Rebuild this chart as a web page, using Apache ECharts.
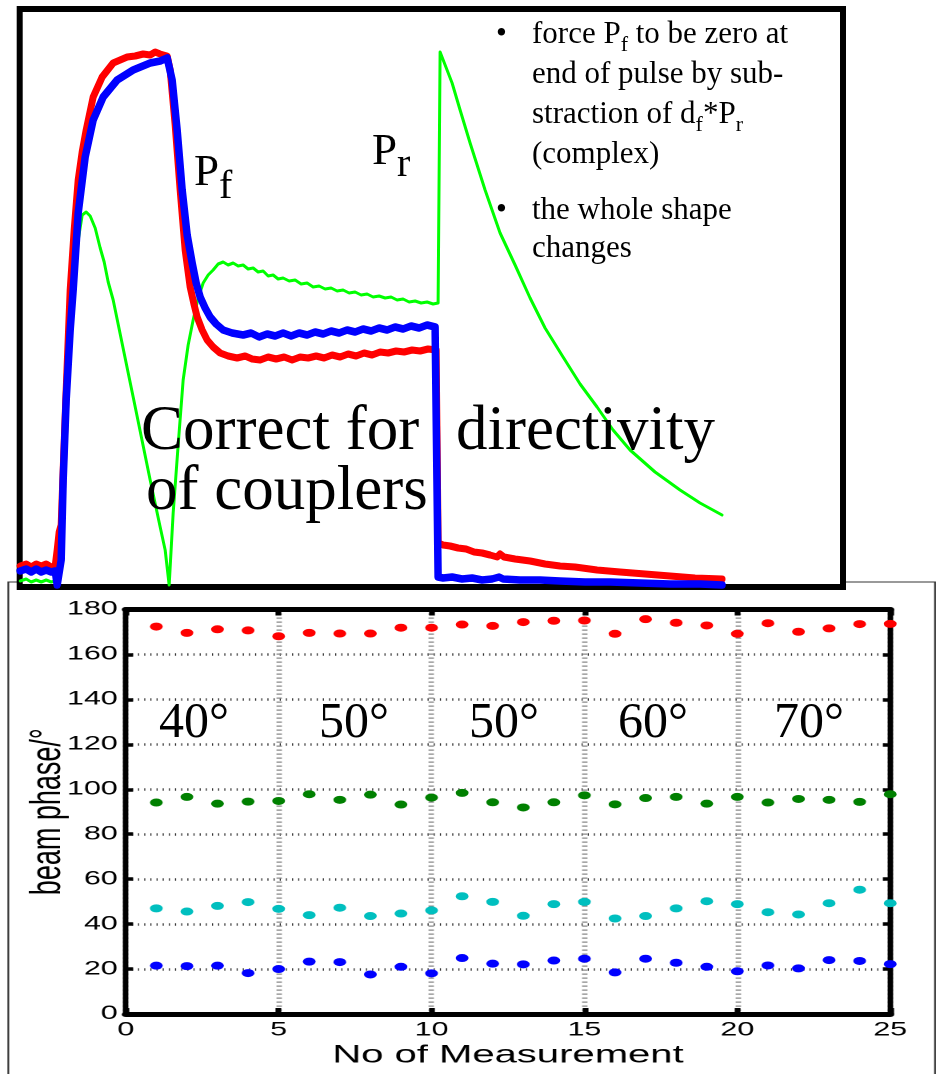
<!DOCTYPE html>
<html>
<head>
<meta charset="utf-8">
<script src="https://cdn.jsdelivr.net/npm/echarts@6/dist/echarts.min.js"></script>
<style>
  html, body { margin: 0; padding: 0; background: #fff; }
  /* the phase plot is laid out narrow and widened on screen */
  #phase { position: absolute; left: 0; top: 575px; width: 587px; height: 499px;
           transform: scaleX(1.6); transform-origin: 0 0; }
  #pulse { position: absolute; left: 0; top: 0; width: 939px; height: 1074px; }
</style>
</head>
<body>
<div id="phase"></div>
<div id="pulse"></div>
<script>
// ---------- RF pulse traces: [time (us), amplitude (a.u.)] ----------
const pfRaw = [
  [40,10.5],[52,11.5],[62,10],[72,11.5],[82,10.5],[92,11.5],[102,10],[110,10.5],[114,18.5],[118,27.5],
  [122,31],[126,58.5],[132,98.5],[140,148.5],[148,178.5],[156,203.5],[164,217.5],[172,228.5],[186,245],
  [204,255],[226,262],[240,263.5],[254,265],[270,265.5],[286,266.5],[300,266],[310,267.5],[320,266.5],
  [334,265.5],[340,258.5],[350,231],[360,198.5],[370,168.5],[380,150],[388,141],[394,135],[404,128.5],
  [414,123.5],[426,120],[440,117],[456,115.5],[474,114.5],[490,115.5],[504,114],[520,113.5],[536,115],
  [552,114],[568,115],[584,113.5],[600,115],[616,114.5],[632,115.5],[648,114.5],[664,116],[680,115],
  [696,116.5],[712,115.5],[728,117],[744,116],[760,117.5],[776,117],[792,118],[808,117.5],[824,118.5],
  [840,118],[856,119],[872,118.5],[876,22],[886,21],[900,20.5],[916,19.5],[932,19],[948,17.5],[964,17],
  [980,16],[994,15],[1000,16.5],[1008,15],[1030,14],[1060,13],[1090,11.5],[1120,10.5],[1150,10],
  [1194,8.5],[1240,7.5],[1290,6.5],[1340,5.5],[1390,4.5],[1444,4]
];
const pfCorrected = [
  [40,8],[52,9],[62,7.5],[72,9],[82,7.5],[92,8.5],[102,7.5],[110,8],[114,1],[118,0.5],[122,13.5],
  [126,53.5],[132,93.5],[140,128.5],[146,148.5],[156,187],[170,215],[186,233.5],[206,245],[234,253.5],
  [266,258.5],[300,262],[320,263],[334,264.5],[344,253.5],[354,228.5],[364,198.5],[374,176],[384,162],
  [392,152],[400,145],[410,139.5],[420,135],[432,131.5],[446,128.5],[464,127],[486,126],[502,127],
  [518,125],[534,126.5],[550,125.5],[566,127],[582,125.5],[598,127],[614,126],[630,127.5],[646,126.5],
  [662,128],[678,127],[694,128.5],[710,127.5],[726,129],[742,128],[758,129.5],[774,128.5],[790,130],
  [806,129],[822,130.5],[838,129.5],[854,131],[870,130],[876,5],[886,4.5],[904,5],[924,4],[944,4.5],
  [964,3.5],[984,4],[998,5],[1006,4],[1040,3.5],[1080,3.5],[1120,3],[1170,2.5],[1220,2.5],[1280,2],
  [1340,1.5],[1400,1.5],[1444,1]
];
const prTrace = [
  [40,3],[52,4],[62,2.5],[72,3.5],[82,2.5],[92,3.5],[102,2.5],[110,3],[114,13.5],[120,32.5],[124,34.5],
  [132,78.5],[140,123.5],[148,153.5],[156,173.5],[164,186],[172,187.5],[180,185.5],[190,179.5],
  [200,169.5],[208,162.5],[216,152.5],[226,143.5],[266,95],[300,53.5],[320,30],[330,18.5],[338,1],
  [346,37],[356,71],[366,103.5],[376,121],[386,133.5],[396,144.5],[406,152],[416,156],[426,158.5],
  [436,161.5],[446,162.5],[456,161],[466,162],[476,160.5],[486,161],[496,159],[506,159.5],[516,157.5],
  [526,158],[536,155.5],[546,156],[556,154],[566,154.5],[578,153],[590,153.5],[602,151.5],[614,152],
  [626,150],[638,150.5],[650,149],[662,149.5],[674,148],[686,148.5],[698,147],[710,147.5],[722,146],
  [734,146.5],[746,145],[758,145.5],[770,144.5],[782,145],[794,143.5],[806,144],[818,142.5],[830,143],
  [842,142],[854,142.5],[866,141.5],[876,142],[880,267.5],[884,268.5],[904,252],[920,238.5],[940,222],
  [970,198.5],[1000,177],[1030,161],[1060,144.5],[1090,129.5],[1126,115],[1160,101.5],[1194,90],
  [1226,78.5],[1260,68.5],[1310,57.5],[1360,48.5],[1400,42],[1444,36]
];

// ---------- beam phase per measurement ----------
const measurement = [1,2,3,4,5,6,7,8,9,10,11,12,13,14,15,16,17,18,19,20,21,22,23,24,25];
const phaseRed   = [172.4,169.6,171.2,170.7,168.1,169.6,169.3,169.3,171.9,171.9,173.3,172.7,174.4,175.0,175.1,169.2,175.7,174.1,172.9,169.2,173.9,170.1,171.6,173.5,173.6];
const phaseGreen = [94.1,96.6,93.6,94.5,94.8,97.8,95.3,97.6,93.2,96.3,98.4,94.2,91.9,94.2,97.3,93.3,96.1,96.6,93.6,96.6,94.1,95.7,95.3,94.4,97.8];
const phaseCyan  = [47.0,45.6,48.1,49.8,46.8,44.0,47.3,43.6,44.7,46.1,52.4,49.9,43.7,48.9,49.9,42.5,43.6,47.0,50.2,48.9,45.3,44.3,49.3,55.3,49.3];
const phaseBlue  = [21.5,21.3,21.5,18.2,20.0,23.3,23.1,17.6,21.0,18.1,24.9,22.4,22.1,23.8,24.6,18.5,24.6,22.8,21.0,19.0,21.6,20.3,24.0,23.6,22.2];
const phaseTicks = { xMin: 0, xMax: 25, xStep: 5, yMin: 0, yMax: 180, yStep: 20 };
const settingLabels = ['40°', '50°', '50°', '60°', '70°'];

const SERIF = '"Liberation Serif", "Times New Roman", serif';
const SANS = '"Liberation Sans", Arial, sans-serif';

// ---------- text helpers (runs of normal text and subscripts) ----------
const measureCtx = document.createElement('canvas').getContext('2d');
const MID = 0.32; // distance from em-box middle to alphabetic baseline, in em
function textRun(x, baseline, parts, z) {
  const out = [];
  let cx = x;
  for (const [str, size, drop] of parts) {
    measureCtx.font = size + 'px "Liberation Serif"';
    out.push({
      type: 'text', x: cx, y: baseline + drop - MID * size, z: z || 20, silent: true,
      style: { text: str, fontSize: size, fontFamily: SERIF, fill: '#000', align: 'left', verticalAlign: 'middle' }
    });
    cx += measureCtx.measureText(str).width;
  }
  return out;
}

// ---------- pulse panel ----------
const pulseChart = echarts.init(document.getElementById('pulse'), null, { renderer: 'canvas' });

function trace(name, data, color, width, z) {
  return {
    type: 'line', name, data, z, silent: true, showSymbol: false, symbol: 'none',
    lineStyle: { color, width, join: 'round', cap: 'round' }
  };
}

const NOTE = 31, SUB = 22, DROP = 7;
const graphics = [].concat(
  // trace labels
  textRun(194, 188, [['P', 45, 0], ['f', 40, 12]]),
  textRun(372, 167, [['P', 45, 0], ['r', 40, 11]]),
  // bullet notes
  textRun(496, 45, [['•', NOTE, 0]]),
  textRun(532, 45, [['force P', NOTE, 0], ['f', SUB, DROP], [' to be zero at', NOTE, 0]]),
  textRun(532, 85, [['end of pulse by sub-', NOTE, 0]]),
  textRun(532, 125, [['straction of d', NOTE, 0], ['f', SUB, DROP], ['*P', NOTE, 0], ['r', SUB, DROP]]),
  textRun(532, 165, [['(complex)', NOTE, 0]]),
  textRun(496, 221, [['•', NOTE, 0]]),
  textRun(532, 221, [['the whole shape', NOTE, 0]]),
  textRun(532, 259, [['changes', NOTE, 0]]),
  // headline
  textRun(141, 453, [['Correct for', 63, 0]]),
  textRun(456, 453, [['directivity', 63, 0]]),
  textRun(146, 513, [['of couplers', 63, 0]])
);
// phase-setting labels over the lower plot
const settingX = [159, 319, 469, 618, 774];
settingLabels.forEach((s, i) => { graphics.push(...textRun(settingX[i], 740, [[s, 50, 0]])); });

pulseChart.setOption({
  backgroundColor: 'transparent',
  animation: false,
  grid: { left: 19.7, right: 96, top: 9, bottom: 487, show: true, outerBoundsMode: 'none',
          backgroundColor: '#fff', borderColor: '#000', borderWidth: 6 },
  xAxis: { type: 'value', min: 39, max: 1686, show: false },
  yAxis: { type: 'value', min: 0, max: 289, show: false },
  series: [
    trace('P_r', prTrace, '#00ff00', 3, 2),
    trace('P_f', pfRaw, '#ff0000', 7, 3),
    trace('P_f corrected', pfCorrected, '#0000ff', 7.5, 4)
  ],
  graphic: graphics
});

// ---------- phase panel ----------
const phaseChart = echarts.init(document.getElementById('phase'), null, { renderer: 'canvas', devicePixelRatio: 2 });
const pairs = arr => measurement.map((m, i) => [m, arr[i]]);
function dots(name, arr, color) {
  return { type: 'scatter', name, data: pairs(arr), symbol: 'circle', symbolSize: 8,
           itemStyle: { color, opacity: 1 }, silent: true, xAxisIndex: 0, yAxisIndex: 0 };
}
const labelFont = { fontFamily: SANS, fontSize: 19, color: '#000' };
const xBase = { type: 'value', min: phaseTicks.xMin, max: phaseTicks.xMax, interval: phaseTicks.xStep };
const yBase = { type: 'value', min: phaseTicks.yMin, max: phaseTicks.yMax, interval: phaseTicks.yStep };

phaseChart.setOption({
  backgroundColor: '#fff',
  animation: false,
  grid: { left: 78.6, right: 30.6, top: 34.5, bottom: 60, outerBoundsMode: 'none', containLabel: false },
  xAxis: [
    Object.assign({}, xBase, {
      position: 'bottom',
      name: 'No of Measurement', nameLocation: 'middle', nameGap: 29, nameMoveOverlap: false,
      nameTextStyle: { fontFamily: SANS, fontSize: 25, color: '#000' },
      axisLine: { show: true, onZero: false, lineStyle: { color: '#000', width: 5 } },
      axisTick: { show: true, inside: true, length: 6, lineStyle: { color: '#000', width: 3.6 } },
      axisLabel: Object.assign({ margin: 7 }, labelFont),
      splitLine: { show: true, lineStyle: { color: '#8a8a8a', width: 3.4, type: [1.2, 2.8] } }
    }),
    Object.assign({}, xBase, {
      position: 'top',
      axisLine: { show: true, onZero: false, lineStyle: { color: '#000', width: 5 } },
      axisTick: { show: true, inside: true, length: 6, lineStyle: { color: '#000', width: 3.6 } },
      axisLabel: { show: false }, splitLine: { show: false }
    })
  ],
  yAxis: [
    Object.assign({}, yBase, {
      position: 'left',
      name: 'beam phase/°', nameLocation: 'middle', nameGap: 35, nameRotate: 90, nameMoveOverlap: false,
      nameTextStyle: { fontFamily: SANS, fontSize: 27, color: '#000' },
      axisLine: { show: true, onZero: false, lineStyle: { color: '#000', width: 3.4 } },
      axisTick: { show: true, inside: true, length: 4.6, lineStyle: { color: '#000', width: 3.5 } },
      axisLabel: Object.assign({ margin: 5 }, labelFont),
      splitLine: { show: true, lineStyle: { color: '#222', width: 2.6, type: [0.65, 3.2] } }
    }),
    Object.assign({}, yBase, {
      position: 'right',
      axisLine: { show: true, onZero: false, lineStyle: { color: '#000', width: 3.4 } },
      axisTick: { show: true, inside: true, length: 4.6, lineStyle: { color: '#000', width: 3.5 } },
      axisLabel: { show: false }, splitLine: { show: false }
    })
  ],
  series: [
    dots('red', phaseRed, '#ff0000'),
    dots('green', phaseGreen, '#008000'),
    dots('cyan', phaseCyan, '#00bfbf'),
    dots('blue', phaseBlue, '#0000ff')
  ],
  graphic: [{
    type: 'rect', z: -1, silent: true,
    shape: { x: 5.2, y: 7, width: 579.2, height: 560 },
    style: { fill: 'none', stroke: '#333', lineWidth: 1.1 }
  }]
});
</script>
</body>
</html>
